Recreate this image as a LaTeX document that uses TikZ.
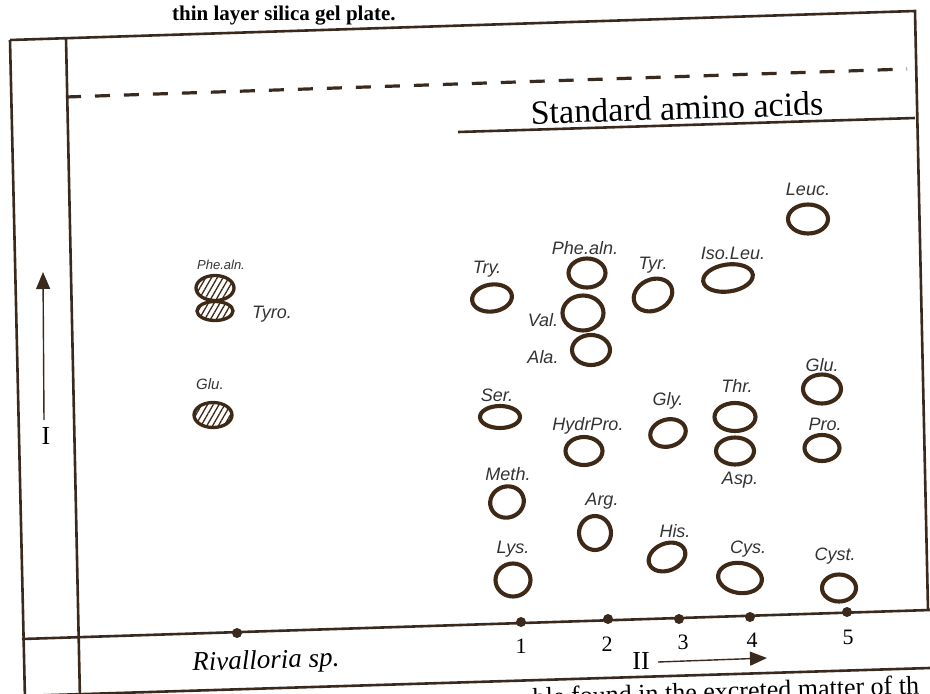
\documentclass[tikz,border=0pt]{standalone}
\usepackage{fontspec}
\setmainfont{Liberation Serif}
\newfontfamily\handfont{Liberation Sans}
\usetikzlibrary{shapes.geometric,arrows.meta,patterns.meta}
\definecolor{plateink}{RGB}{58,42,30}
\definecolor{spotink}{RGB}{62,40,22}
\tikzset{
	spot/.style={ellipse,draw=spotink,line width=4.1pt,inner sep=0pt},
	hatched/.style={spot,line width=3.3pt,pattern={Lines[angle=60,distance=5pt,line width=1.3pt]},pattern color=spotink},
	hand/.style={font=\handfont\itshape\fontsize{18}{18}\selectfont,inner sep=0pt,text=black!80},
	frame/.style={draw=plateink,line width=2.6pt},
	origin/.style={circle,fill=plateink,inner sep=0pt,minimum size=10pt},
	runarrow/.style={draw=plateink,line width=1.4pt,-{Triangle[length=17pt,width=14pt]}},
	tilted/.style={rotate=1.8},
}
\begin{document}
\begin{tikzpicture}[x=1pt,y=-1pt]
	\useasboundingbox (0,0) rectangle (930,694);
	\clip (0,0) rectangle (930,694);

	\coordinate (outerTop) at (10,40);
	\coordinate (outerBot) at (25,700);
	\coordinate (innerTop) at (66,38);
	\coordinate (innerBot) at (80,700);
	\coordinate (rightTop) at (915,11);
	\coordinate (rightBot) at (928,610);
	\coordinate (frontLeft) at (66,97);
	\coordinate (frontRight) at (907,69);
	\coordinate (stdLeft) at (458,132);
	\coordinate (stdRight) at (915,118);
	\coordinate (baseLeft) at (22,639);
	\coordinate (baseRight) at (930,610);
	\coordinate (lowLeft) at (20,696);
	\coordinate (lowRight) at (930,668);

	\draw[frame] (outerTop) -- (rightTop) -- (rightBot);
	\draw[frame] (outerTop) -- (outerBot);
	\draw[frame] (innerTop) -- (innerBot);
	\draw[frame] (baseLeft) -- (baseRight);
	\draw[frame] (lowLeft) -- (lowRight);
	\draw[frame] (stdLeft) -- (stdRight);
	\draw[frame,line width=3.2pt,dash pattern=on 15pt off 14pt] (frontLeft) -- (frontRight);

	\node[font=\bfseries\fontsize{21}{21}\selectfont,anchor=base west,inner sep=0pt] (caption) at (172,20) {thin layer silica gel plate.};
	\node[font=\fontsize{34}{34}\selectfont,tilted] (stdtitle) at (677,108) {Standard amino acids};
	\node[font=\itshape\fontsize{27}{27}\selectfont,tilted] (species) at (266,662) {Rivalloria sp.};
	\node[font=\fontsize{26}{26}\selectfont,anchor=base west,inner sep=0pt,tilted] (foot) at (533,706) {ble found in the excreted matter of th};

	\node[origin] (start0) at (237,633) {};
	\node[origin] (start1) at (521,622) {};
	\node[origin] (start2) at (608,619) {};
	\node[origin] (start3) at (679,619) {};
	\node[origin] (start4) at (750,617) {};
	\node[origin] (start5) at (847,612) {};
	\begin{scope}[every node/.style={font=\fontsize{22}{22}\selectfont}]
		\node (num1) at (521,646) {1};
		\node (num2) at (607,644) {2};
		\node (num3) at (683,642) {3};
		\node (num4) at (752,640) {4};
		\node (num5) at (848,637) {5};
		\node[font=\fontsize{26}{26}\selectfont] (dirII) at (641,661) {II};
		\node[font=\fontsize{26}{26}\selectfont] (dirI) at (46,436) {I};
	\end{scope}
	\coordinate (IIstart) at (658,662);
	\coordinate (IIend) at (767,658);
	\coordinate (Istart) at (44,420);
	\coordinate (Iend) at (43,272);
	\draw[runarrow] (IIstart) -- (IIend);
	\draw[runarrow] (Istart) -- (Iend);

	\node[hatched,minimum width=38pt,minimum height=25pt] (sphealn) at (215,288) {};
	\node[hatched,minimum width=36pt,minimum height=19pt] (styro) at (215,311) {};
	\node[hatched,minimum width=38pt,minimum height=25pt] (sglu) at (213,415) {};
	\node[hand,font=\handfont\itshape\fontsize{13}{13}\selectfont] (sphealnlbl) at (221,265) {Phe.aln.};
	\node[hand,font=\handfont\itshape\fontsize{18}{18}\selectfont] (styrolbl) at (272,314) {Tyro.};
	\node[hand,font=\handfont\itshape\fontsize{15}{15}\selectfont] (sglulbl) at (210,384) {Glu.};

	\node[spot,minimum width=40pt,minimum height=29pt] (leuc) at (808,219) {};
	\node[spot,minimum width=40pt,minimum height=27pt,rotate=8] (try) at (492,298) {};
	\node[spot,minimum width=37pt,minimum height=29pt] (phealn) at (587,273) {};
	\node[spot,minimum width=40pt,minimum height=31pt,rotate=25] (tyr) at (653,295) {};
	\node[spot,minimum width=50pt,minimum height=27pt,rotate=8] (isoleu) at (728,278) {};
	\node[spot,minimum width=41pt,minimum height=35pt] (val) at (583,313) {};
	\node[spot,minimum width=38pt,minimum height=30pt] (ala) at (591,350) {};
	\node[spot,minimum width=40pt,minimum height=22pt] (ser) at (500,417) {};
	\node[spot,minimum width=38pt,minimum height=29pt] (glu) at (822,389) {};
	\node[spot,minimum width=37pt,minimum height=28pt] (hydrpro) at (584,451) {};
	\node[spot,minimum width=36pt,minimum height=27pt,rotate=15] (gly) at (668,433) {};
	\node[spot,minimum width=41pt,minimum height=28pt] (thr) at (735,417) {};
	\node[spot,minimum width=38pt,minimum height=27pt] (asp) at (735,451) {};
	\node[spot,minimum width=35pt,minimum height=26pt] (pro) at (822,448) {};
	\node[spot,minimum width=34pt,minimum height=31pt,rotate=20] (meth) at (507,502) {};
	\node[spot,minimum width=32pt,minimum height=34pt] (arg) at (595,533) {};
	\node[spot,minimum width=38pt,minimum height=27pt,rotate=22] (his) at (667,557) {};
	\node[spot,minimum width=35pt,minimum height=33pt] (lys) at (513,580) {};
	\node[spot,minimum width=44pt,minimum height=30pt,rotate=-8] (cys) at (740,578) {};
	\node[spot,minimum width=34pt,minimum height=27pt] (cyst) at (839,588) {};

	\node[hand] (leuclbl) at (808,189) {Leuc.};
	\node[hand] (trylbl) at (487,269) {Try.};
	\node[hand] (phealnlbl) at (585,248) {Phe.aln.};
	\node[hand] (tyrlbl) at (653,265) {Tyr.};
	\node[hand] (isoleulbl) at (733,253) {Iso.Leu.};
	\node[hand] (vallbl) at (543,320) {Val.};
	\node[hand] (alalbl) at (543,357) {Ala.};
	\node[hand] (serlbl) at (497,395) {Ser.};
	\node[hand] (glulbl) at (822,365) {Glu.};
	\node[hand] (hydrprolbl) at (588,426) {HydrPro.};
	\node[hand] (glylbl) at (668,401) {Gly.};
	\node[hand] (thrlbl) at (737,386) {Thr.};
	\node[hand] (asplbl) at (740,480) {Asp.};
	\node[hand] (prolbl) at (825,424) {Pro.};
	\node[hand] (methlbl) at (508,474) {Meth.};
	\node[hand] (arglbl) at (602,501) {Arg.};
	\node[hand] (hislbl) at (675,531) {His.};
	\node[hand] (lyslbl) at (513,549) {Lys.};
	\node[hand] (cyslbl) at (748,549) {Cys.};
	\node[hand] (cystlbl) at (835,556) {Cyst.};
\end{tikzpicture}
\end{document}
